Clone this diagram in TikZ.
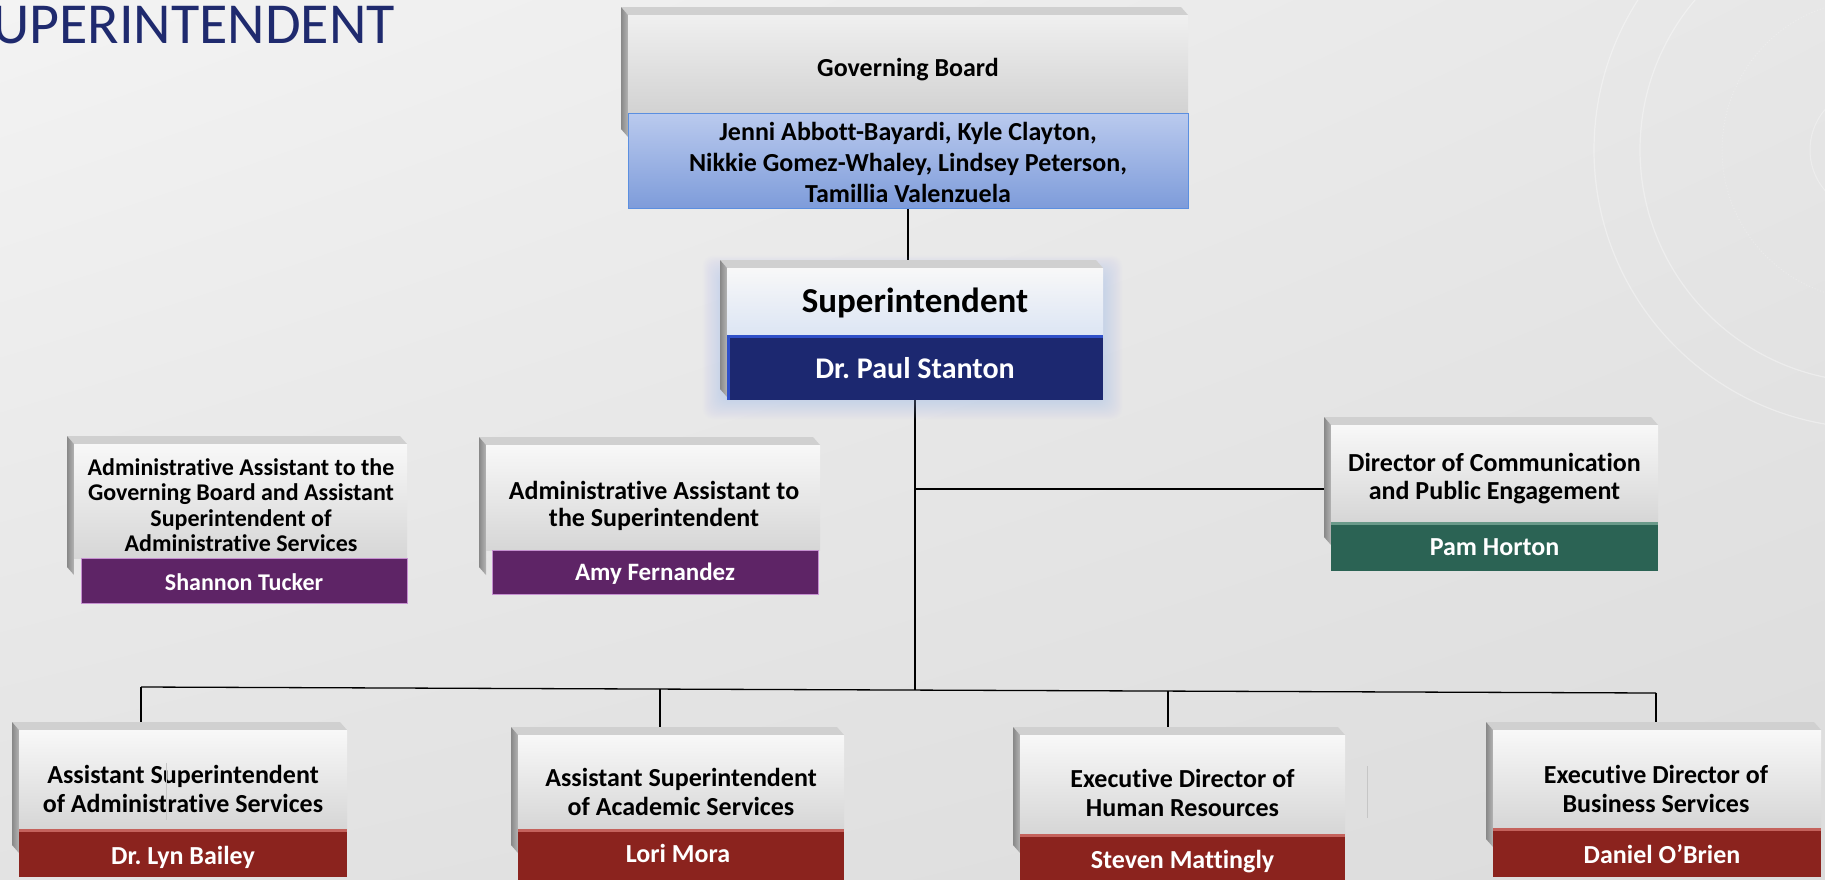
\documentclass[tikz,border=0pt]{standalone}
\usepackage{fontspec}
\usetikzlibrary{shadings}
\setmainfont{Carlito}[Ligatures=NoCommon]
\frenchspacing
\definecolor{bgA}{HTML}{F3F3F3}
\definecolor{bgB}{HTML}{E7E7E7}
\definecolor{bgC}{HTML}{E3E3E3}
\definecolor{bgD}{HTML}{DCDCDC}
\definecolor{titleblue}{HTML}{1F2A6E}
\definecolor{bevelc}{HTML}{D0D0D0}
\definecolor{sideL}{HTML}{888888}
\definecolor{sideR}{HTML}{B4B4B4}
\definecolor{faceT}{HTML}{F8F8F8}
\definecolor{faceB}{HTML}{D6D6D6}
\definecolor{gbT}{HTML}{F0F0F0}
\definecolor{gbB}{HTML}{D2D2D2}
\definecolor{supB}{HTML}{DCE5F4}
\definecolor{blueT}{HTML}{BACAEE}
\definecolor{blueB}{HTML}{7E9CDA}
\definecolor{blueE}{HTML}{5B8FE0}
\definecolor{navy}{HTML}{1C2870}
\definecolor{navyE}{HTML}{2F50C8}
\definecolor{purp}{HTML}{5E2466}
\definecolor{purpE}{HTML}{C58FD0}
\definecolor{grn}{HTML}{2B6354}
\definecolor{grnE}{HTML}{6A9A8A}
\definecolor{redb}{HTML}{8B231E}
\definecolor{redE}{HTML}{C4625C}
\definecolor{glowc}{HTML}{9FB6EA}
\definecolor{artif}{HTML}{C6C6C6}
\newcommand\orgframe[4]{% L T R SB
  \fill[bevelc] (#1-7,#2-8) -- (#3-7,#2-8) -- (#3,#2) -- (#1,#2) -- cycle;
  \shade[left color=sideL, right color=sideR] (#1-7,#2-8) -- (#1,#2) -- (#1,#4) -- (#1-7,#4-8) -- cycle;}
\pgfdeclarelayer{backlayer}
\pgfdeclarelayer{linelayer}
\pgfsetlayers{backlayer,linelayer,main}
\begin{document}
\begin{tikzpicture}[x=1pt,y=-1pt,
  face/.style={inner sep=0pt, outer sep=0pt, draw=none, top color=faceT, bottom color=faceB, anchor=north west},
  bar/.style={inner sep=0pt, outer sep=0pt, anchor=north west, fill=#1},
  hil/.style={path picture={\fill[#1] (path picture bounding box.north west) rectangle ([yshift=-3pt]path picture bounding box.north east);}},
  ttl/.style={inner sep=0pt, font=\bfseries\fontsize{26}{29}\selectfont, align=center, text=black},
  nm/.style={inner sep=0pt, font=\bfseries\fontsize{26}{29}\selectfont, text=white},
  conn/.style={draw=black, line width=1.3pt}
]
\useasboundingbox (0,0) rectangle (1825,879);
\clip (0,0) rectangle (1825,879);
\begin{pgfonlayer}{backlayer}
\shade[upper left=bgA, upper right=bgB, lower left=bgC, lower right=bgD] (0,0) rectangle (1825,879);
\draw[white, opacity=0.35, line width=1.2pt] (1872,150) circle[radius=278pt];
\draw[white, opacity=0.35, line width=1.2pt] (1872,150) circle[radius=232pt];
\draw[white, opacity=0.3, line width=1pt] (1872,150) circle[radius=62pt];
\draw[white, opacity=0.25, line width=1pt, dotted] (1872,150) circle[radius=150pt];
\end{pgfonlayer}

% title
\node[anchor=base east, inner sep=0pt, font=\fontsize{58}{60}\selectfont, text=titleblue] (title) at (395,43) {SUPERINTENDENT};

% coordinates of connectors
\coordinate (busL) at (141,687);
\coordinate (busR) at (1656,693);
\coordinate (hub) at (915,690);
\coordinate (jd) at (915,489);
\coordinate (dL) at (660,689);
\coordinate (dM) at (1168,691);

% soft glow behind superintendent
\foreach \i in {1,...,16}
  \fill[glowc, opacity=0.022, rounded corners=10pt] (722-1.2*\i,275-1.2*\i) rectangle (1103+1.2*\i,400+1.2*\i);

% ---- Governing Board
\orgframe{628}{15}{1188}{137}
\node[face, top color=gbT, bottom color=gbB, minimum width=560pt, minimum height=98pt] (gb) at (628,15) {};
\node[bar=blueB, top color=blueT, bottom color=blueB, draw=blueE, line width=1pt, minimum width=560pt, minimum height=95pt] (gbn) at (628,113) {};
\node[ttl] (gbt) at (908,70) {Governing Board};
\node[ttl, font=\bfseries\fontsize{26}{31}\selectfont] (gbm) at (908,162) {Jenni Abbott-Bayardi, Kyle Clayton,\\Nikkie Gomez-Whaley, Lindsey Peterson,\\Tamillia Valenzuela};

% ---- Superintendent
\orgframe{727}{268}{1103}{397}
\node[face, bottom color=supB, minimum width=376pt, minimum height=67pt] (sup) at (727,268) {};
\node[bar=navy, minimum width=376pt, minimum height=65pt, hil=navyE] (supn) at (727,335) {};
\fill[navyE] (727,335) rectangle (729.5,400);
\node[ttl, font=\bfseries\fontsize{35}{38}\selectfont] (supt) at (915,303) {Superintendent};
\node[nm, font=\bfseries\fontsize{30}{32}\selectfont] (supm) at (915,368) {Dr. Paul Stanton};

% ---- Shannon Tucker
\orgframe{74}{444}{407}{575}
\node[face, minimum width=333pt, minimum height=114pt] (sha) at (74,444) {};
\node[bar=purp, draw=purpE, line width=1pt, minimum width=326pt, minimum height=45pt] (shan) at (81,558) {};
\node[ttl, font=\bfseries\fontsize{24}{25.5}\selectfont] (shat) at (241,505) {Administrative Assistant to the\\Governing Board and Assistant\\Superintendent of\\Administrative Services};
\node[nm, font=\bfseries\fontsize{24}{26}\selectfont] (sham) at (244,582) {Shannon Tucker};

% ---- Amy Fernandez
\orgframe{486}{445}{820}{575}
\node[face, minimum width=334pt, minimum height=105pt] (amy) at (486,445) {};
\node[bar=purp, draw=purpE, line width=1pt, minimum width=326pt, minimum height=44pt] (amyn) at (492,550) {};
\node[ttl, font=\bfseries\fontsize{26}{27}\selectfont] (amyt) at (654,505.5) {Administrative Assistant to\\the Superintendent};
\node[nm, font=\bfseries\fontsize{25}{27}\selectfont] (amym) at (655,574) {Amy Fernandez};

% ---- Director
\orgframe{1331}{425}{1658}{545}
\node[face, minimum width=327pt, minimum height=97pt] (dir) at (1331,425) {};
\node[bar=grn, minimum width=327pt, minimum height=49pt, hil=grnE] (dirn) at (1331,522) {};
\node[ttl, font=\bfseries\fontsize{26}{28}\selectfont] (dirt) at (1494.5,479) {Director of Communication\\and Public Engagement};
\node[nm] (dirm) at (1494.5,547) {Pam Horton};

% ---- Bailey
\orgframe{19}{730}{347}{853}
\node[face, minimum width=328pt, minimum height=99pt] (bai) at (19,730) {};
\node[bar=redb, minimum width=328pt, minimum height=48pt, hil=redE] (bain) at (19,829) {};
\node[ttl] (bait) at (183,788.5) {Assistant Superintendent\\of Administrative Services};
\node[nm] (baim) at (183,857) {Dr. Lyn Bailey};
\draw[artif, line width=1pt] (166,763) -- (166,820);

% ---- Lori Mora
\orgframe{518}{735}{844}{853}
\node[face, minimum width=326pt, minimum height=94pt] (lor) at (518,735) {};
\node[bar=redb, minimum width=326pt, minimum height=53pt, hil=redE] (lorn) at (518,829) {};
\node[ttl] (lort) at (681,791.5) {Assistant Superintendent\\of Academic Services};
\node[nm] (lorm) at (678,853) {Lori Mora};

% ---- Mattingly
\orgframe{1020}{735}{1345}{853}
\node[face, minimum width=325pt, minimum height=99pt] (mat) at (1020,735) {};
\node[bar=redb, minimum width=325pt, minimum height=48pt, hil=redE] (matn) at (1020,834) {};
\node[ttl] (matt) at (1182.5,792.5) {Executive Director of\\Human Resources};
\node[nm] (matm) at (1182.5,862) {Steven Mattingly};
\draw[artif, line width=1pt] (1367,766) -- (1367,818);

% ---- O'Brien
\orgframe{1493}{730}{1821}{847}
\node[face, minimum width=328pt, minimum height=98pt] (obr) at (1493,730) {};
\node[bar=redb, minimum width=328pt, minimum height=49pt, hil=redE] (obrn) at (1493,828) {};
\node[ttl] (obrt) at (1656,789) {Executive Director of\\Business Services};
\node[nm] (obrm) at (1662,854) {Daniel O’Brien};

% ---- connectors (on a layer under the boxes)
\begin{pgfonlayer}{linelayer}
\draw[conn] (gbn.south) -- (gbn.south |- sup.north);
\draw[conn] (supn.south) -- (hub);
\draw[conn] (jd) -- (jd -| dir.west);
\draw[conn] (busL) -- (busR);
\draw[conn] (busL) -- (busL |- bai.north);
\draw[conn] (dL) -- (dL |- lor.north);
\draw[conn] (dM) -- (dM |- mat.north);
\draw[conn] (busR) -- (busR |- obr.north);
\end{pgfonlayer}
\end{tikzpicture}
\end{document}
